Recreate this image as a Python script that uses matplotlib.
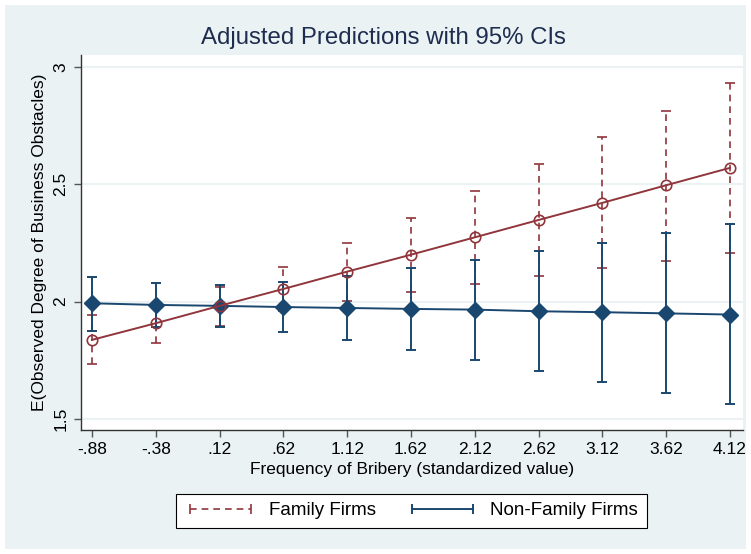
import numpy as np
import matplotlib.pyplot as plt
from matplotlib.lines import Line2D
from matplotlib.patches import Rectangle

plt.rcParams['font.family'] = ['Liberation Sans', 'DejaVu Sans']

# dane
x_labels = ['-.88', '-.38', '.12', '.62', '1.12', '1.62', '2.12', '2.62', '3.12', '3.62', '4.12']
x = [-0.88, -0.38, 0.12, 0.62, 1.12, 1.62, 2.12, 2.62, 3.12, 3.62, 4.12]

fam_mean = [1.837, 1.908, 1.982, 2.054, 2.128, 2.200, 2.274, 2.348, 2.421, 2.496, 2.570]
fam_lo = [1.735, 1.825, 1.896, 1.961, 2.004, 2.043, 2.075, 2.110, 2.142, 2.175, 2.208]
fam_hi = [1.943, 1.991, 2.061, 2.147, 2.251, 2.358, 2.472, 2.585, 2.700, 2.814, 2.930]

non_mean = [1.993, 1.986, 1.982, 1.977, 1.973, 1.969, 1.966, 1.959, 1.955, 1.950, 1.945]
non_lo = [1.877, 1.892, 1.894, 1.871, 1.837, 1.794, 1.750, 1.705, 1.658, 1.611, 1.564]
non_hi = [2.105, 2.080, 2.070, 2.084, 2.110, 2.142, 2.178, 2.215, 2.251, 2.291, 2.330]

red = '#90353B'
blue = '#1A476F'
bg = '#EAF2F3'

fig = plt.figure(figsize=(7.51, 5.54), dpi=100, facecolor='white')
fig.patches.append(Rectangle((5 / 751, 5 / 554), 741 / 751, 544 / 554,
                             transform=fig.transFigure, facecolor=bg,
                             edgecolor='none', zorder=-10))
ax = fig.add_axes([81 / 751, 124 / 554, 662 / 751, 375 / 554])
ax.set_facecolor('white')

# przedzialy ufnosci
fm = np.array(fam_mean)
eb1 = ax.errorbar(x, fm, yerr=[fm - np.array(fam_lo), np.array(fam_hi) - fm],
                  fmt='none', ecolor=red, elinewidth=1.2, capsize=3.5, capthick=1.2, zorder=2)
eb1[2][0].set_linestyle((0, (4, 3)))
nm = np.array(non_mean)
ax.errorbar(x, nm, yerr=[nm - np.array(non_lo), np.array(non_hi) - nm],
            fmt='none', ecolor=blue, elinewidth=1.4, capsize=3.5, capthick=1.4, zorder=3)

# linie i punkty
ax.plot(x, non_mean, color=blue, lw=1.4, marker='D', ms=8, mfc=blue, mec=blue, zorder=4)
ax.plot(x, fam_mean, color=red, lw=1.4, marker='o', ms=7.5, mfc='none', mec=red, mew=1.2, zorder=5)

ax.set_xlim(-0.966, 4.222)
ax.set_ylim(1.453, 3.051)
ax.set_xticks(x)
ax.set_xticklabels(x_labels)
ax.set_yticks([1.5, 2, 2.5, 3])
ax.set_yticklabels(['1.5', '2', '2.5', '3'], rotation=90, va='center')
ax.tick_params(axis='both', labelsize=12.5, length=5, width=1, color='#555555', pad=4)
ax.yaxis.grid(True, color=bg, lw=1.5)
ax.set_axisbelow(True)
for s in ['top', 'right']:
    ax.spines[s].set_visible(False)
for s in ['left', 'bottom']:
    ax.spines[s].set_color('#333333')
    ax.spines[s].set_linewidth(1)

ax.set_xlabel('Frequency of Bribery (standardized value)', fontsize=12.5, labelpad=3)
ax.set_ylabel('E(Observed Degree of Business Obstacles)', fontsize=12.5, labelpad=5)
fig.text(383 / 751, 1 - 38 / 554, 'Adjusted Predictions with 95% CIs',
         ha='center', va='center', fontsize=17.3, color='#1E2D4F')

# legenda
h1 = Line2D([0, 1], [0, 0], color=red, ls=(0, (4, 3)), lw=1.2, marker='|', ms=7, mew=1.2)
h2 = Line2D([0, 1], [0, 0], color=blue, lw=1.4, marker='|', ms=7, mew=1.4)
leg = fig.legend([h1, h2], ['Family Firms', 'Non-Family Firms'], loc='center',
                 bbox_to_anchor=(411.5 / 751, 43.5 / 554), ncol=2, numpoints=2,
                 fancybox=False, edgecolor='black', fontsize=13.5, handlelength=3.84,
                 handletextpad=0.64, columnspacing=1.64, borderpad=0.45, framealpha=1)
leg.get_frame().set_linewidth(0.8)

fig.savefig('out.png', dpi=100, facecolor=fig.get_facecolor())
